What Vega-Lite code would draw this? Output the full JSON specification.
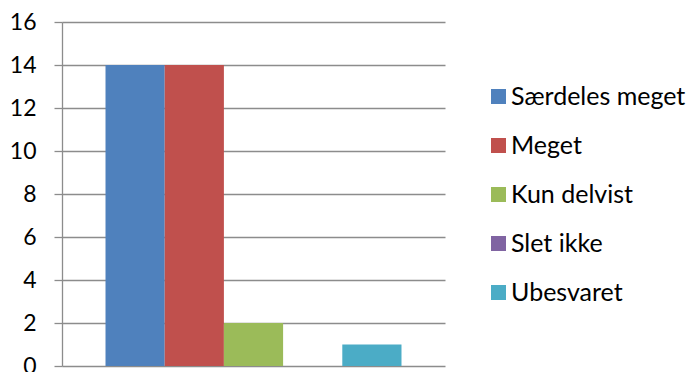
{
  "$schema": "https://vega.github.io/schema/vega-lite/v6.json",
  "autosize": "none",
  "width": 383,
  "height": 344,
  "padding": {"left": 62, "top": 22, "right": 242, "bottom": 6},
  "background": "white",
  "config": {"view": {"stroke": null}, "font": "Lato"},
  "data": {
    "values": [
      {"series": "Særdeles meget", "value": 14},
      {"series": "Meget", "value": 14},
      {"series": "Kun delvist", "value": 2},
      {"series": "Slet ikke", "value": 0},
      {"series": "Ubesvaret", "value": 1}
    ]
  },
  "mark": {"type": "bar"},
  "encoding": {
    "x": {
      "field": "series",
      "type": "nominal",
      "sort": null,
      "scale": {"paddingInner": 0, "paddingOuter": 0.735},
      "axis": null
    },
    "y": {
      "field": "value",
      "type": "quantitative",
      "scale": {"domain": [0, 16], "nice": false},
      "axis": {
        "title": null,
        "values": [0, 2, 4, 6, 8, 10, 12, 14, 16],
        "grid": true,
        "gridColor": "#8c8c8c",
        "gridWidth": 1.3,
        "domainColor": "#8c8c8c",
        "domainWidth": 1.3,
        "tickColor": "#8c8c8c",
        "tickWidth": 1.3,
        "tickSize": 8,
        "labelPadding": 18,
        "labelFont": "Lato",
        "labelFontSize": 23,
        "labelColor": "#000000"
      }
    },
    "color": {
      "field": "series",
      "type": "nominal",
      "sort": null,
      "scale": {
        "domain": ["Særdeles meget", "Meget", "Kun delvist", "Slet ikke", "Ubesvaret"],
        "range": ["#4F81BD", "#C0504D", "#9BBB59", "#8064A2", "#4BACC6"]
      },
      "legend": {
        "title": null,
        "orient": "none",
        "legendX": 424,
        "legendY": 62,
        "symbolType": "square",
        "symbolSize": 225,
        "symbolStrokeWidth": 0,
        "labelFont": "Lato",
        "labelFontSize": 25,
        "labelColor": "#000000",
        "labelOffset": 0,
        "rowPadding": 23,
        "labelLimit": 300
      }
    }
  }
}
